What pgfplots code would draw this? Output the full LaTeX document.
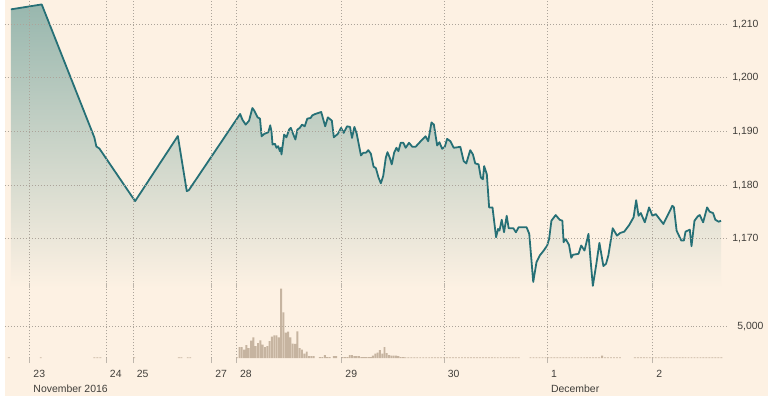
\documentclass[border=0pt]{standalone}
\usepackage{pgfplots}
\pgfplotsset{compat=1.18}
\usepackage{pgfplotstable}
\usepackage{fontspec}
\setmainfont{Liberation Sans}
\definecolor{bg}{RGB}{253,241,227}
\definecolor{ftteal}{RGB}{38,112,118}
\definecolor{gridc}{RGB}{172,164,154}
\definecolor{tickc}{RGB}{190,182,172}
\definecolor{vol}{RGB}{198,180,160}
\definecolor{lbl}{RGB}{64,62,58}
\definecolor{filltop}{RGB}{152,183,174}

\pgfplotstableread[row sep=\\]{
x y\\
6 1212.78\\ 37 1213.70\\ 90 1188.89\\ 92 1187.22\\ 95 1186.85\\ 131 1177.04\\
174 1189.17\\ 183 1178.89\\ 185 1179.07\\ 236.7 1193.28\\ 239 1192.22\\
242.3 1191.30\\ 245.7 1192.04\\ 249 1194.39\\ 251 1193.89\\ 254.3 1192.65\\
256.7 1192.41\\ 258.3 1189.13\\ 261 1189.57\\ 265 1189.87\\ 267 1191.17\\
268.3 1189.94\\ 269.3 1187.59\\ 271.7 1187.72\\ 273.3 1186.98\\ 275 1187.28\\
276.7 1186.35\\ 277.7 1186.98\\ 278.3 1185.74\\ 281 1189.44\\ 283.3 1188.94\\
286 1190.37\\ 287.7 1190.69\\ 290 1189.57\\ 292.3 1188.52\\ 294.3 1190.37\\
296.7 1190.69\\ 299 1191.30\\ 301.7 1190.98\\ 304.3 1192.41\\ 307.7 1192.54\\
309.3 1193.02\\ 312.3 1193.28\\ 318.3 1193.65\\ 322.3 1190.98\\ 325 1192.65\\
329 1192.04\\ 331 1188.94\\ 335 1189.57\\ 338.3 1190.69\\ 341 1189.76\\
344.3 1190.98\\ 347.3 1190.87\\ 349.3 1188.83\\ 351.7 1190.87\\ 354 1189.63\\
358.3 1185.56\\ 360.7 1186.06\\ 363.3 1186.06\\ 365.7 1186.54\\ 368.3 1185.87\\
371 1183.46\\ 373.3 1183.20\\ 376 1181.43\\ 378.3 1180.37\\ 380.7 1181.72\\
383.3 1185.13\\ 385 1186.17\\ 387.3 1185.13\\ 389.3 1183.89\\ 391.7 1186.06\\
394 1186.98\\ 396 1186.35\\ 398.3 1187.91\\ 401 1187.91\\ 403.3 1186.98\\
406.7 1187.91\\ 410 1187.17\\ 413.3 1187.17\\ 420 1188.52\\ 423.3 1189.13\\
426 1188.20\\ 429.3 1191.72\\ 431.7 1191.30\\ 435 1187.41\\ 437.3 1188.02\\
440 1186.80\\ 442.7 1187.17\\ 445 1188.65\\ 448.3 1188.20\\ 451.7 1186.98\\
456 1187.09\\ 458.3 1187.17\\ 461.7 1184.50\\ 464.3 1184.07\\ 468.3 1186.54\\
471 1185.74\\ 473.3 1184.07\\ 476.7 1183.89\\ 479 1181.43\\ 481 1181.11\\
482.3 1183.57\\ 485 1182.04\\ 487.3 1175.87\\ 490.7 1175.87\\ 494.3 1170.31\\
496.3 1171.85\\ 497.7 1171.54\\ 500 1173.57\\ 502.3 1171.24\\ 505 1174.31\\
507 1171.98\\ 511.7 1171.98\\ 514.3 1171.24\\ 517 1172.17\\ 525 1172.17\\
527.7 1170.93\\ 531.7 1161.98\\ 535 1165.69\\ 538.3 1166.91\\ 542.3 1167.83\\
545.7 1168.76\\ 547.7 1170.00\\ 550 1173.39\\ 554.3 1174.44\\ 558.3 1173.57\\
561 1173.39\\ 562.3 1169.39\\ 564.3 1170.00\\ 567.7 1168.89\\ 570 1166.48\\
571.7 1167.04\\ 577.3 1167.22\\ 580 1168.76\\ 583.3 1167.83\\ 587.3 1170.93\\
589.3 1166.30\\ 591.7 1161.24\\ 595 1165.06\\ 598.3 1169.26\\ 602.3 1164.94\\
605 1165.37\\ 607.3 1166.91\\ 611.7 1171.98\\ 616 1170.61\\ 619.3 1171.11\\
623.3 1171.35\\ 628.3 1172.59\\ 632.7 1174.02\\ 635.3 1177.22\\ 637.7 1174.31\\
640 1174.81\\ 644 1173.09\\ 648.3 1175.87\\ 651.7 1174.31\\ 655 1174.63\\
662.7 1172.78\\ 671.7 1176.17\\ 673.3 1175.87\\ 676 1171.54\\ 680.7 1169.69\\
683.3 1169.69\\ 685 1171.35\\ 689.3 1171.72\\ 691 1168.65\\ 694 1173.39\\
697.3 1174.20\\ 699.3 1174.44\\ 702.7 1173.09\\ 706.7 1175.87\\ 709.3 1175.06\\
712.7 1174.81\\ 715 1173.57\\ 718.3 1173.20\\ 720.7 1173.39\\
}\price

\pgfplotstableread[row sep=\\]{
x v\\
4 130\\ 36 130\\ 90 130\\ 93 130\\ 96 130\\ 130 130\\ 175 130\\ 177.5 130\\
184 130\\ 186.5 130\\ 233.5 130\\
236 1720\\ 238.3 1720\\ 240.7 1340\\ 243 2030\\ 245.3 1560\\ 247.7 2750\\
250 3280\\ 252.3 1880\\ 254.7 2340\\ 257 2810\\ 259.3 2130\\ 261.7 1720\\
264 1880\\ 266.3 2660\\ 268.7 3380\\ 271 3590\\ 273.3 3590\\ 275.7 3280\\
278 10940\\ 280.3 7190\\ 282.7 4000\\ 285 4160\\ 287.3 3280\\ 289.7 2280\\
292 2230\\ 294.3 4220\\ 296.7 1560\\ 299 1340\\ 301.3 720\\ 303.7 1030\\
306 310\\ 308.3 310\\ 310.7 310\\
317 150\\ 319.3 150\\ 322 470\\ 324.3 160\\ 326.7 160\\ 331 310\\ 333.3 310\\
340 160\\ 342.3 160\\ 344.7 160\\ 347 470\\ 349.3 470\\ 351.7 310\\ 354 310\\
356.3 310\\ 358.7 160\\ 361 160\\ 363.3 160\\ 365.7 160\\ 368 160\\
370.3 390\\ 372.7 720\\ 375 880\\ 377.3 1250\\ 379.7 720\\ 382 1720\\
384.3 780\\ 386.7 470\\ 389 390\\ 391.3 390\\ 393.7 390\\ 396 310\\
398.3 160\\ 400.7 160\\
403 130\\ 406 130\\ 409 130\\ 412 130\\ 415 130\\ 418 130\\ 421 130\\ 424 130\\
427 130\\ 430 130\\ 433 130\\ 436 130\\ 439 130\\ 442 130\\ 445 130\\ 448 130\\
451 130\\ 454 130\\ 457 130\\ 460 130\\ 463 130\\ 466 130\\ 469 130\\ 472 130\\
475 130\\ 478 130\\ 481 130\\ 484 130\\ 487 130\\ 490 130\\ 493 130\\ 496 130\\
499 130\\ 502 130\\ 505 130\\ 508 130\\ 511 130\\ 514 130\\ 517 130\\
529 130\\ 532 130\\ 535 130\\ 538 130\\ 541 130\\ 544 130\\ 547 130\\ 550 130\\
553 130\\ 556 130\\ 559 130\\ 562 130\\ 565 130\\ 568 130\\ 571 130\\ 574 130\\
577 130\\ 580 130\\ 583 130\\ 586 130\\ 589 130\\ 592 130\\ 595 130\\ 598 130\\
601 400\\ 604 130\\ 607 130\\ 610 130\\ 613 130\\ 616 130\\ 619 130\\
634 130\\ 637 130\\ 640 130\\ 643 130\\ 646 130\\ 649 130\\ 652 130\\ 655 130\\
658 130\\ 661 130\\ 664 130\\ 667 130\\ 670 130\\ 673 130\\ 676 130\\ 679 130\\
682 130\\ 685 130\\ 688 130\\ 691 130\\ 694 130\\ 697 130\\ 700 130\\ 703 130\\
706 130\\ 709 130\\ 712 130\\ 715 130\\ 718 130\\ 721 130\\
}\volume

\begin{document}
\begin{tikzpicture}[font=\fontsize{10.5}{15}\selectfont]
\fill[bg] (0pt,0pt) rectangle (768pt,398pt);
\pgfplotsset{
  common/.style={
    anchor=south west, scale only axis, width=727pt,
    xmin=0, xmax=727, axis line style={draw=none},
    xtick={25,102,129,208,233,339,442,546,652},
    xmajorgrids, ymajorgrids,
    grid style={draw=gridc, line width=0.9pt, dash pattern=on 0.9pt off 2.1pt},
    ticklabel style={text=lbl},
    scaled y ticks=false,
    /pgf/number format/assume math mode=true,
    /pgf/number format/1000 sep={,},
    yticklabel pos=right,
    ytick style={draw=none},
  }
}
\begin{axis}[common, at={(0pt,108.4pt)}, height=289.6pt, axis on top,
  ymin=1160.815, ymax=1214.444, ytick={1170,1180,1190,1200,1210},
  xticklabels={}, xtick style={draw=none},
  yticklabel style={anchor=west, inner sep=0pt, xshift=5pt}]
\addplot[draw=none, top color=filltop, bottom color=bg, forget plot]
  table[x=x,y=y]{\price} -- (720.7,1160.815) -- (6,1160.815) -- cycle;
\addplot[ftteal, line width=1.8pt, line join=round, mark=none]
  table[x=x,y=y]{\price};
\end{axis}
\begin{axis}[common, at={(0pt,38pt)}, height=70.4pt,
  ymin=0, ymax=11000, ytick={5000},
  xticklabels={{23\\November 2016},24,25,27,28,29,30,{1\\December},2},
  xticklabel style={align=left, anchor=north west, inner sep=0pt, xshift=3.5pt, yshift=-7pt},
  yticklabel style={anchor=west, inner sep=0pt, xshift=5pt},
  tick align=outside, major tick length=5pt,
  xtick style={draw=tickc, line width=0.8pt},
  ybar, bar width=1.9]
\addplot[fill=vol, draw=none] table[x=x,y=v]{\volume};
\end{axis}
\end{tikzpicture}
\end{document}
